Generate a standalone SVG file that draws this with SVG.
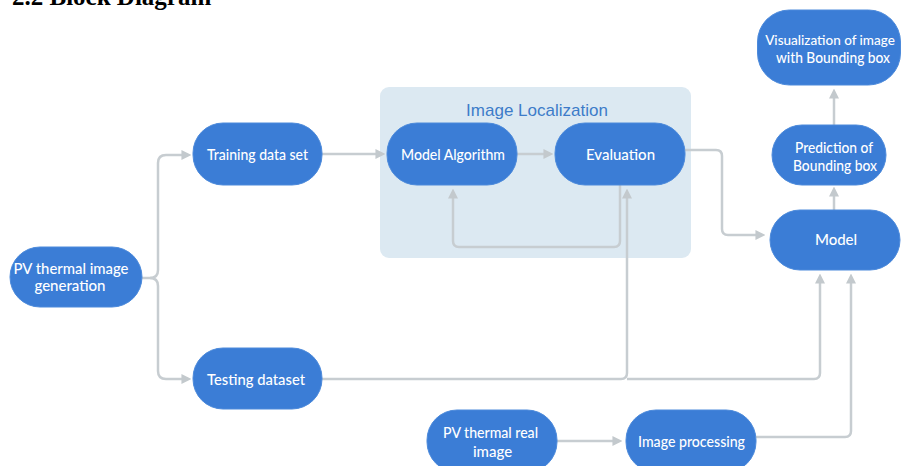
<svg xmlns="http://www.w3.org/2000/svg" width="901" height="466" viewBox="0 0 901 466">
  <style>
    .node rect { fill: #3b7dd6; stroke: #4c8adb; stroke-width: 1; }
    .node text { fill: #ffffff; font-family: Lato, "Open Sans", "Liberation Sans", sans-serif; font-size: 15px; font-weight: 500; text-anchor: middle; }
    .conn path { fill: none; stroke: #c7cdd1; stroke-width: 2.5; stroke-linejoin: round; }
    .arrow { marker-end: url(#head); }
  </style>
  <defs>
    <marker id="head" markerUnits="userSpaceOnUse" markerWidth="10" markerHeight="10" viewBox="0 0 9 9" refX="5" refY="4.5" orient="auto">
      <path d="M0,0 L9,4.5 L0,9 z" fill="#c3c9cd"/>
    </marker>
  </defs>

  <rect width="901" height="466" fill="#ffffff"/>

  <!-- heading, clipped by the top edge -->
  <text x="12" y="5" font-family="'Liberation Serif', 'Times New Roman', serif" font-size="25" font-weight="bold" fill="#000000">2.2 Block Diagram</text>

  <!-- Image Localization container -->
  <g id="image-localization">
    <rect x="380" y="87" width="311" height="171" rx="9" fill="#dce9f2"/>
    <text x="537" y="116" font-family="'Liberation Sans', Arial, sans-serif" font-size="17" fill="#3d7cc9" text-anchor="middle">Image Localization</text>
  </g>

  <!-- connectors -->
  <g id="connectors" class="conn">
    <path class="arrow" d="M142,278 H150 Q158,278 158,270 V163 Q158,155 166,155 H187"/>
    <path class="arrow" d="M150,278 Q158,278 158,286 V371 Q158,379 166,379 H187"/>
    <path class="arrow" d="M322,154 H381"/>
    <path class="arrow" d="M517,154 H549"/>
    <path class="arrow" d="M620,185 V241 Q620,247 614,247 H459 Q453,247 453,241 V193"/>
    <path class="arrow" d="M322,379 H621 Q627,379 627,373 V193"/>
    <path class="arrow" d="M627,379 H814 Q820,379 820,373 V278"/>
    <path class="arrow" d="M685,150 H716 Q722,150 722,156 V229 Q722,235 728,235 H761"/>
    <path class="arrow" d="M756,437 H845 Q851,437 851,431 V278"/>
    <path class="arrow" d="M557,441 H618"/>
    <path class="arrow" d="M834,210 V191"/>
    <path class="arrow" d="M834,125 V93"/>
  </g>

  <!-- nodes -->
  <g id="pv-thermal-image-generation" class="node">
    <rect x="10" y="247" width="132" height="60" rx="30"/>
    <text x="71" y="274" textLength="115" lengthAdjust="spacingAndGlyphs">PV thermal image</text>
    <text x="70" y="291">generation</text>
  </g>
  <g id="training-data-set" class="node">
    <rect x="193" y="123" width="129" height="62" rx="30"/>
    <text x="257.5" y="160" textLength="101" lengthAdjust="spacingAndGlyphs">Training data set</text>
  </g>
  <g id="testing-dataset" class="node">
    <rect x="193" y="348" width="129" height="61" rx="30"/>
    <text x="256" y="385" textLength="98" lengthAdjust="spacingAndGlyphs">Testing dataset</text>
  </g>
  <g id="model-algorithm" class="node">
    <rect x="387" y="123" width="130" height="62" rx="30"/>
    <text x="453" y="160" textLength="104" lengthAdjust="spacingAndGlyphs">Model Algorithm</text>
  </g>
  <g id="evaluation" class="node">
    <rect x="555" y="123" width="130" height="62" rx="30"/>
    <text x="620.5" y="160">Evaluation</text>
  </g>
  <g id="model" class="node">
    <rect x="770" y="210" width="130" height="60" rx="30"/>
    <text x="836" y="245">Model</text>
  </g>
  <g id="prediction-of-bounding-box" class="node">
    <rect x="772" y="125" width="114" height="60" rx="30"/>
    <text x="834" y="153" textLength="78" lengthAdjust="spacingAndGlyphs">Prediction of</text>
    <text x="835" y="171" textLength="84" lengthAdjust="spacingAndGlyphs">Bounding box</text>
  </g>
  <g id="visualization" class="node">
    <rect x="757.5" y="10" width="143" height="75" rx="32"/>
    <text x="830" y="45" style="font-size:13.5px">Visualization of image</text>
    <text x="833" y="63" textLength="114" lengthAdjust="spacingAndGlyphs">with Bounding box</text>
  </g>
  <g id="pv-thermal-real-image" class="node">
    <rect x="427" y="410" width="130" height="62" rx="30"/>
    <text x="490.5" y="438" textLength="95" lengthAdjust="spacingAndGlyphs">PV thermal real</text>
    <text x="492.5" y="457">image</text>
  </g>
  <g id="image-processing" class="node">
    <rect x="626" y="410" width="130" height="62" rx="30"/>
    <text x="691.5" y="447" textLength="107" lengthAdjust="spacingAndGlyphs">Image processing</text>
  </g>
</svg>
